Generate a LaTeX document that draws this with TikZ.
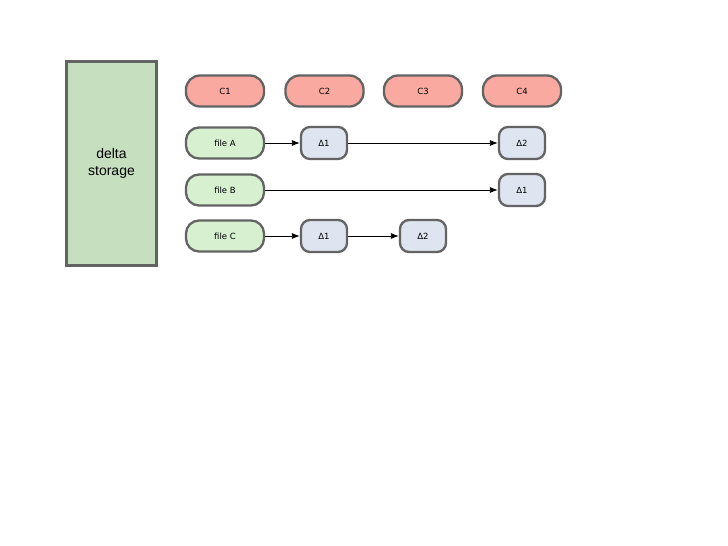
\documentclass[tikz,border=0pt]{standalone}
\usepackage{fontspec}
\setmainfont{Liberation Sans}
\newfontfamily\lblfont{DejaVu Sans}
\usetikzlibrary{arrows.meta}
\definecolor{storefill}{HTML}{C6DFBF}
\definecolor{cfill}{HTML}{F9A9A0}
\definecolor{filefill}{HTML}{D6F0D0}
\definecolor{dfill}{HTML}{DFE5F0}
\definecolor{edge}{HTML}{636363}
\tikzset{
  x=1pt,y=-1pt,
  base/.style={draw=edge,line width=2.3pt,inner sep=0pt,font=\lblfont\fontsize{8.5}{10}\selectfont},
  commit/.style={base,fill=cfill,minimum width=78pt,minimum height=31pt,rounded corners=14pt},
  filebox/.style={base,fill=filefill,minimum width=78pt,minimum height=31pt,rounded corners=13pt},
  delta/.style={base,fill=dfill,minimum width=46pt,minimum height=32pt,rounded corners=9pt},
  link/.style={-{Latex[length=8pt,width=6pt]},line width=0.8pt,black},
}
\begin{document}
\begin{tikzpicture}
\useasboundingbox (0,0) rectangle (728,546);
\node[draw=edge,line width=2.3pt,fill=storefill,minimum width=90pt,minimum height=204pt,inner sep=0pt,align=center,font=\fontsize{14}{17}\selectfont] (store) at (111.5,163.5) {delta\\storage};
\node[commit] (c1) at (225,91) {C1};
\node[commit] (c2) at (324.5,91) {C2};
\node[commit] (c3) at (423,91) {C3};
\node[commit] (c4) at (522,91) {C4};
\node[filebox] (fa) at (225,143) {file A};
\node[filebox] (fb) at (225,190) {file B};
\node[filebox] (fc) at (225,236) {file C};
\node[delta] (a1) at (324,143) {Δ1};
\node[delta] (a2) at (522,143) {Δ2};
\node[delta] (b1) at (522,190) {Δ1};
\node[delta] (cc1) at (324,236) {Δ1};
\node[delta] (cc2) at (423,236) {Δ2};
\draw[link] (fa) -- (a1);
\draw[link] (a1) -- (a2);
\draw[link] (fb) -- (b1);
\draw[link] (fc) -- (cc1);
\draw[link] (cc1) -- (cc2);
\end{tikzpicture}
\end{document}
